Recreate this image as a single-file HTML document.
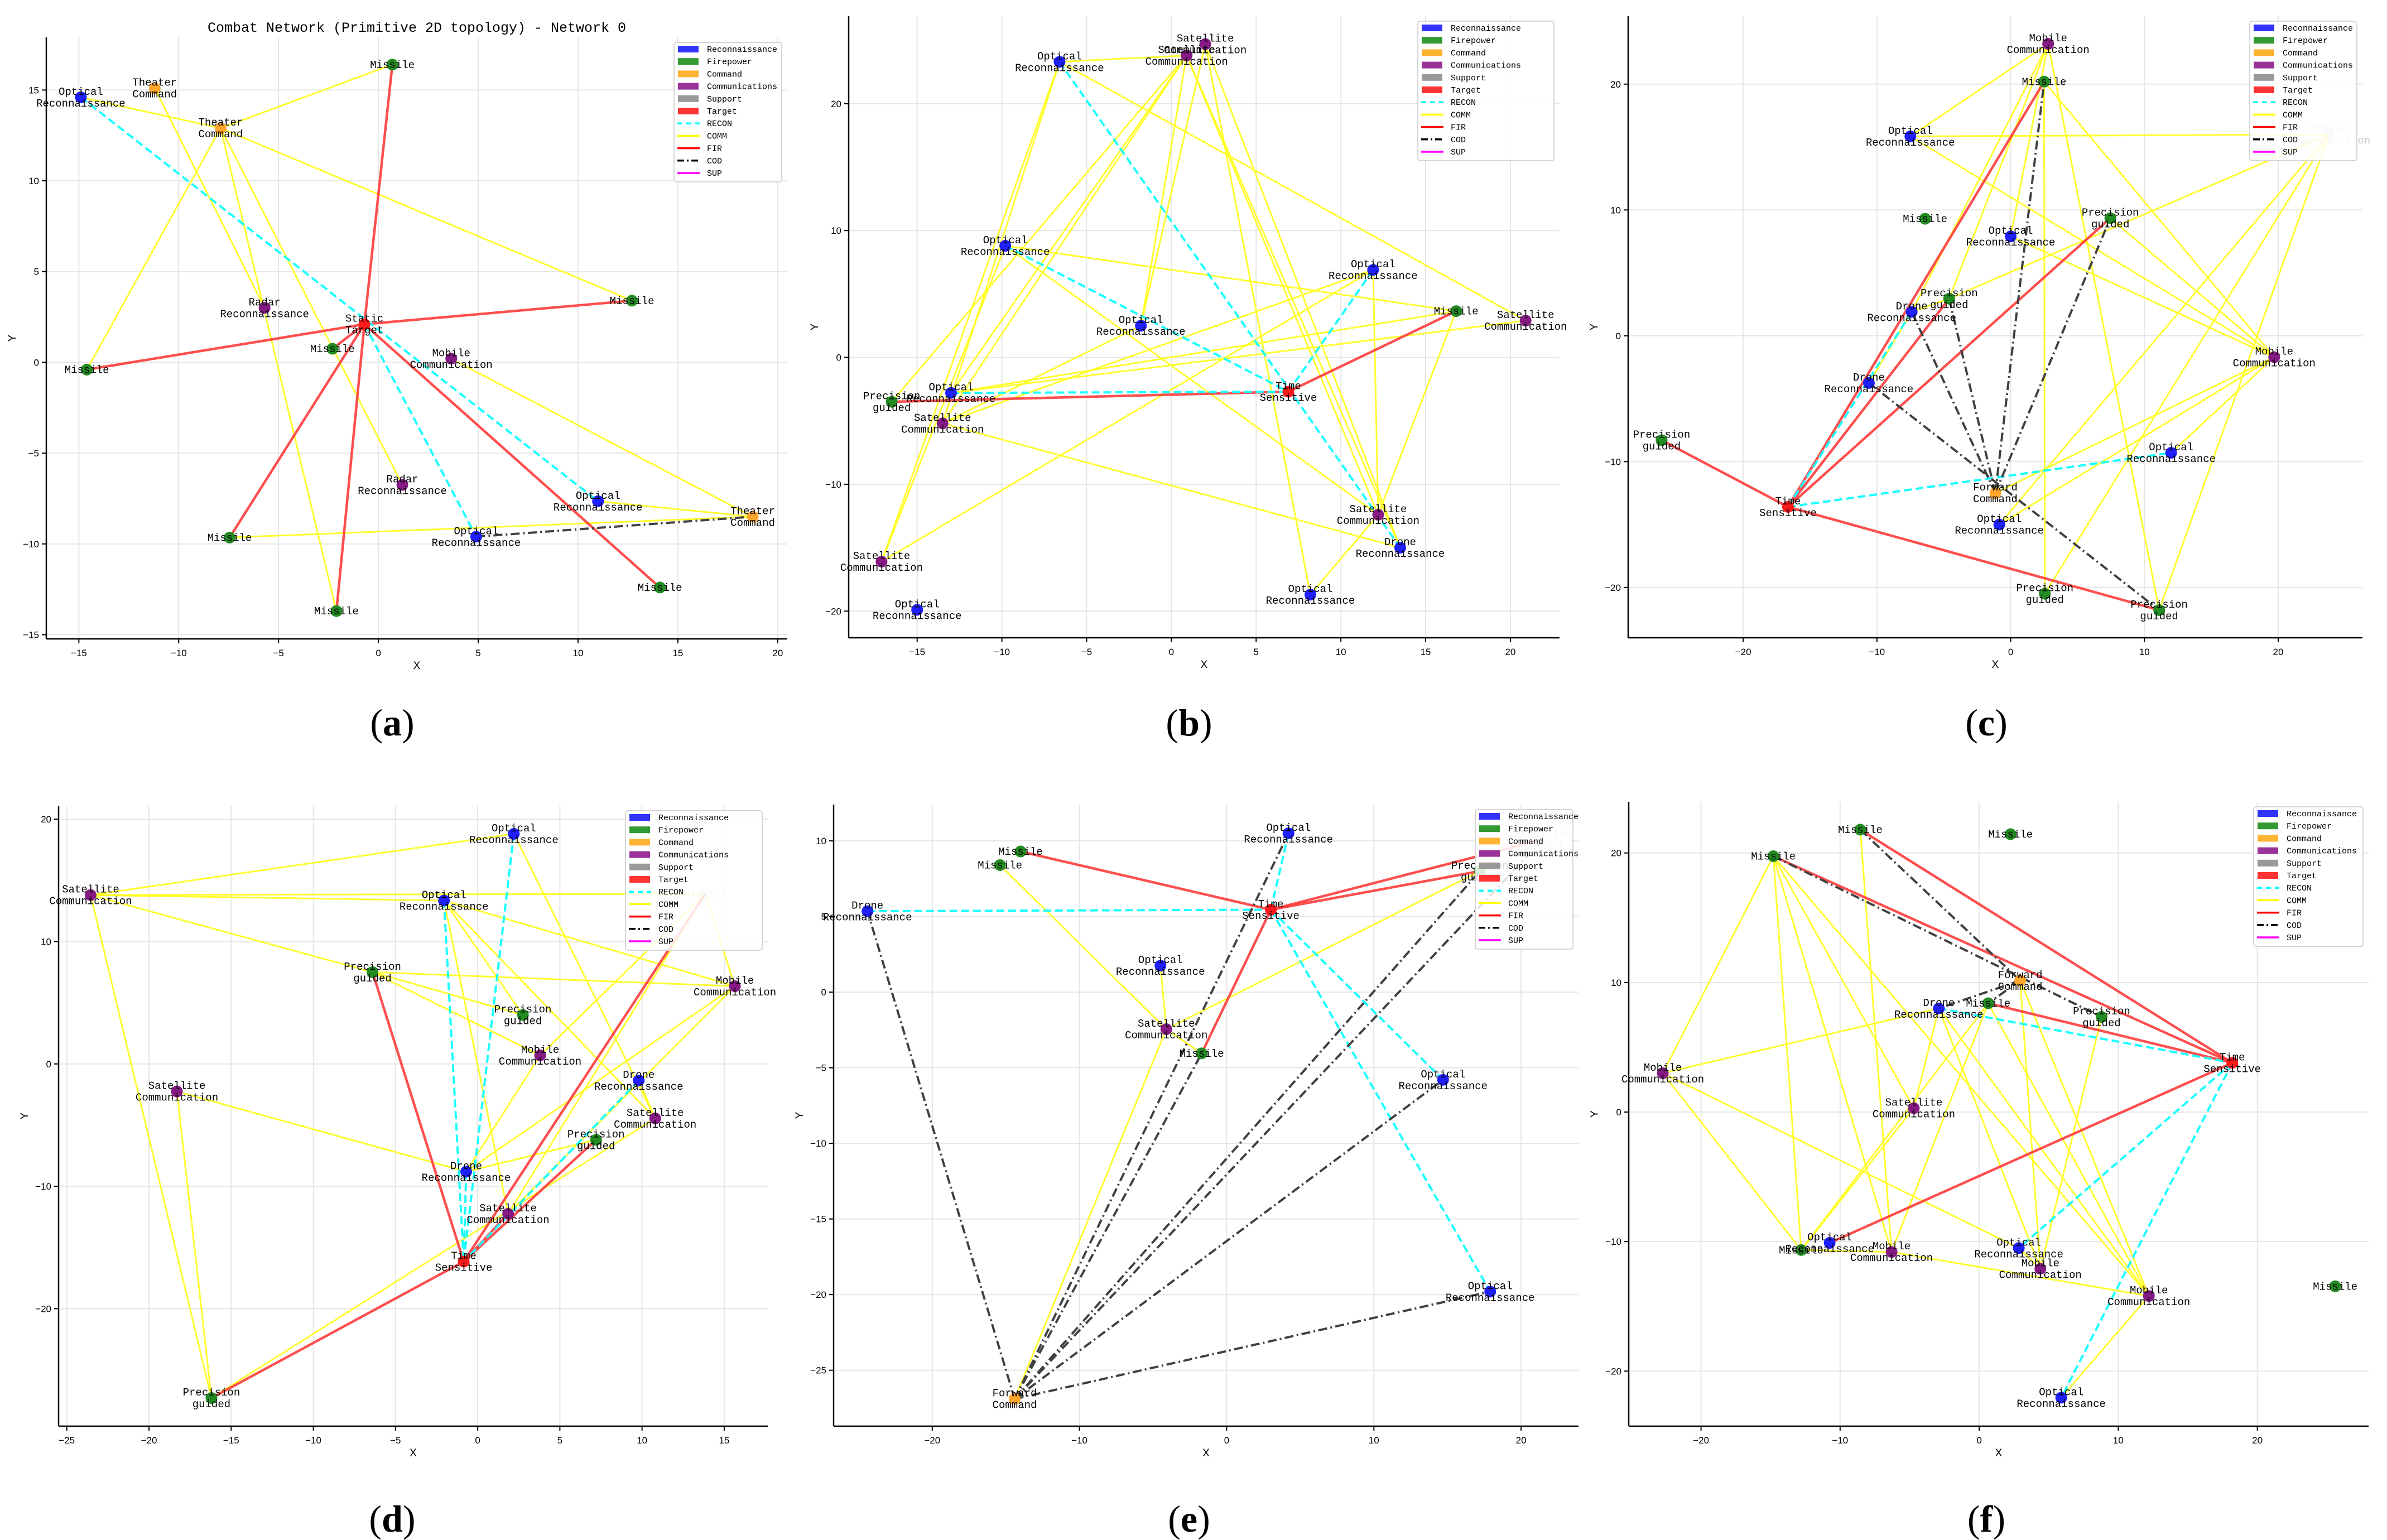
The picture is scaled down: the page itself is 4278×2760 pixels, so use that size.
<!DOCTYPE html>
<html><head><meta charset="utf-8"><style>
html,body{margin:0;padding:0;background:#fff;}
svg{display:block;}
</style></head><body>
<svg id="fig" xmlns="http://www.w3.org/2000/svg" width="4278" height="2760" viewBox="0 0 4278 2760">
<rect x="0" y="0" width="4278" height="2760" fill="#fff"/>
</svg>
<script>
// ---------- Panel (a) data ----------
const aX = [-14.9,-11.2,-7.9,0.7,12.7,-5.7,-0.7,-2.3,3.65,-14.6,1.2,11.0,18.75,4.9,-7.45,14.1,-2.1];
const aY = [14.6,15.1,12.9,16.4,3.4,3.0,2.1,0.75,0.2,-0.4,-6.75,-7.65,-8.5,-9.6,-9.65,-12.4,-13.7];
const aType = ['R','C','C','F','F','M','T','F','M','F','M','R','C','R','F','F','F'];
const aLabel = ['Optical\nReconnaissance','Theater\nCommand','Theater\nCommand','Missile','Missile','Radar\nReconnaissance','Static\nTarget','Missile','Mobile\nCommunication','Missile','Radar\nReconnaissance','Optical\nReconnaissance','Theater\nCommand','Optical\nReconnaissance','Missile','Missile','Missile'];
const aComm = [[0,2],[2,3],[2,9],[2,4],[1,5],[2,16],[2,10],[8,12],[11,12],[14,12]];
const aRecon = [[0,11],[6,13]];
const aFire = [[6,3],[6,9],[6,4],[6,14],[6,16],[6,15],[6,7]];
const aCod = [[13,12]];
const aFaded = [];

// ---------- Panel (b) data ----------
const bX = [-6.6,2.0,0.9,-9.8,11.9,16.8,20.9,-1.8,6.9,-13.0,-16.5,-13.5,12.2,13.5,-17.1,8.2,-15.0];
const bY = [23.3,24.7,23.8,8.8,6.9,3.65,2.9,2.5,-2.7,-2.8,-3.5,-5.2,-12.4,-15.0,-16.1,-18.7,-19.9];
const bType = ['R','M','M','R','R','F','M','R','T','R','F','M','M','R','M','R','R'];
const bLabel = ['Optical\nReconnaissance','Satellite\nCommunication','Satellite\nCommunication','Optical\nReconnaissance','Optical\nReconnaissance','Missile','Satellite\nCommunication','Optical\nReconnaissance','Time\nSensitive','Optical\nReconnaissance','Precision\nguided','Satellite\nCommunication','Satellite\nCommunication','Drone\nReconnaissance','Satellite\nCommunication','Optical\nReconnaissance','Optical\nReconnaissance'];
const bComm = [[0,2],[0,14],[0,11],[0,6],[2,10],[2,9],[2,11],[2,7],[2,12],[1,13],[1,15],[1,7],[3,5],[3,14],[3,12],[4,11],[4,12],[4,14],[5,12],[5,9],[6,9],[7,11],[11,13],[12,15],[2,13]];
const bRecon = [[0,13],[3,8],[9,8],[4,8]];
const bFire = [[8,5],[8,10]];
const bCod = [];
const bFaded = [];

// ---------- Panel (c) data ----------
const cX = [2.8,2.5,-7.5,23.8,-6.4,7.45,0,-4.6,-7.4,19.7,-10.6,-26.1,12.0,-1.15,-16.65,-0.85,2.55,11.1];
const cY = [23.2,20.2,15.85,16.0,9.3,9.35,7.9,2.95,1.9,-1.7,-3.75,-8.3,-9.3,-12.5,-13.6,-15.0,-20.5,-21.8];
const cType = ['M','F','R','M','F','F','R','F','R','M','R','F','R','C','T','R','F','F'];
const cLabel = ['Mobile\nCommunication','Missile','Optical\nReconnaissance','Mobile\nCommunication','Missile','Precision\nguided','Optical\nReconnaissance','Precision\nguided','Drone\nReconnaissance','Mobile\nCommunication','Drone\nReconnaissance','Precision\nguided','Optical\nReconnaissance','Forward\nCommand','Time\nSensitive','Optical\nReconnaissance','Precision\nguided','Precision\nguided'];
const cComm = [[0,2],[0,7],[0,8],[0,6],[1,16],[1,9],[0,17],[2,3],[2,9],[5,9],[6,9],[3,7],[3,15],[3,16],[3,17],[9,13],[9,15],[9,12],[10,8],[7,8]];
const cRecon = [[14,8],[14,12]];
const cFire = [[14,1],[14,7],[14,5],[14,11],[14,17]];
const cCod = [[13,1],[13,5],[13,7],[13,8],[10,17]];
const cFaded = [3];

// ---------- Panel (d) data ----------
const dX = [2.2,-23.55,-2.05,13.85,-6.4,15.65,2.75,3.8,-18.3,9.8,10.8,7.2,-0.7,1.85,-0.85,-16.2];
const dY = [18.8,13.8,13.35,13.9,7.5,6.35,4.0,0.7,-2.25,-1.35,-4.45,-6.2,-8.8,-12.25,-16.15,-27.3];
const dType = ['R','M','R','F','F','M','F','M','M','R','M','F','R','M','T','F'];
const dLabel = ['Optical\nReconnaissance','Satellite\nCommunication','Optical\nReconnaissance','Missile','Precision\nguided','Mobile\nCommunication','Precision\nguided','Mobile\nCommunication','Satellite\nCommunication','Drone\nReconnaissance','Satellite\nCommunication','Precision\nguided','Drone\nReconnaissance','Satellite\nCommunication','Time\nSensitive','Precision\nguided'];
const dComm = [[1,0],[1,3],[1,2],[1,4],[4,5],[4,7],[4,6],[1,15],[8,15],[8,12],[2,6],[2,5],[2,13],[2,10],[0,10],[3,5],[7,12],[7,3],[5,12],[5,13],[9,10],[12,11],[3,13],[15,10]];
const dRecon = [[0,14],[2,14],[12,14],[9,14]];
const dFire = [[14,4],[14,3],[14,15],[14,11],[14,13]];
const dCod = [];
const dFaded = [3];

// ---------- Panel (e) data ----------
const eX = [4.2,21.5,-14.0,-15.4,17.2,-24.4,3.0,-4.5,-4.1,-1.7,14.7,17.9,-14.4];
const eY = [10.5,10.1,9.3,8.4,8.0,5.35,5.45,1.75,-2.45,-4.05,-5.8,-19.8,-26.9];
const eType = ['R','F','F','F','F','R','T','R','M','F','R','R','C'];
const eLabel = ['Optical\nReconnaissance','Precision\nguided','Missile','Missile','Precision\nguided','Drone\nReconnaissance','Time\nSensitive','Optical\nReconnaissance','Satellite\nCommunication','Missile','Optical\nReconnaissance','Optical\nReconnaissance','Forward\nCommand'];
const eComm = [[3,8],[7,8],[8,9],[8,4],[8,12]];
const eRecon = [[5,6],[0,6],[6,10],[6,11]];
const eFire = [[6,2],[6,1],[6,4],[6,9]];
const eCod = [[12,5],[12,0],[12,9],[12,4],[12,1],[12,10],[12,11]];
const eFaded = [1];

// ---------- Panel (f) data ----------
const fX = [-8.55,2.25,-14.8,2.95,0.65,-2.9,8.8,18.2,-22.75,-4.7,-10.75,-12.8,-6.3,2.85,4.4,12.2,25.6,5.9];
const fY = [21.8,21.45,19.75,10.15,8.4,8.0,7.35,3.8,3.0,0.3,-10.1,-10.65,-10.8,-10.5,-12.1,-14.2,-13.45,-22.05];
const fType = ['F','F','F','C','F','R','F','T','M','M','R','F','M','R','M','M','F','R'];
const fLabel = ['Missile','Missile','Missile','Forward\nCommand','Missile','Drone\nReconnaissance','Precision\nguided','Time\nSensitive','Mobile\nCommunication','Satellite\nCommunication','Optical\nReconnaissance','Missile','Mobile\nCommunication','Optical\nReconnaissance','Mobile\nCommunication','Mobile\nCommunication','Missile','Optical\nReconnaissance'];
const fComm = [[2,8],[2,12],[2,9],[2,15],[0,12],[8,5],[8,11],[8,13],[11,12],[11,4],[12,15],[9,5],[12,4],[5,14],[5,15],[3,14],[3,15],[4,15],[6,14],[13,14],[15,17],[2,11],[11,9]];
const fRecon = [[5,7],[7,13],[7,17]];
const fFire = [[7,0],[7,2],[7,4],[7,10]];
const fCod = [[0,3],[2,6],[3,5],[3,4]];
const fFaded = [];

// ---------- Legend entries ----------
const legendNames = ['Reconnaissance','Firepower','Command','Communications','Support','Target','RECON','COMM','FIR','COD','SUP'];

const NS = 'http://www.w3.org/2000/svg';
const svg = document.getElementById('fig');
const nodeColor = {R:'#1f1fff',F:'#228b22',C:'#ffa62b',M:'#851a85',T:'#ff1a1a'};
const patchColor = ['#3333ff','#339933','#ffb333','#993399','#999999','#ff3333'];
const lineStyle = {
  comm:{stroke:'#ffff1a',w:3,dash:null,op:0.9},
  fire:{stroke:'#ff3b3b',w:4.5,dash:null,op:0.9},
  recon:{stroke:'#1affff',w:4,dash:'14 7',op:1},
  cod:{stroke:'#404040',w:4,dash:'16 6 3 6',op:1}
};
function mk(tag, attrs, parent){
  const e = document.createElementNS(NS, tag);
  for (const k in attrs) e.setAttribute(k, attrs[k]);
  (parent||svg).appendChild(e);
  return e;
}
function ticks(a,b,s){const r=[];for(let v=Math.ceil(a/s)*s; v<=b+1e-9; v+=s) r.push(Math.round(v*100)/100);return r;}
const MONO = '"Liberation Mono", "Noto Sans CJK SC", monospace';
const SANS = '"Liberation Sans", "Noto Sans CJK SC", sans-serif';

function drawPanel(id, cfg, X, Y, T, L, comm, recon, fire, cod, faded){
  const g = mk('g', {});
  
  
  const sx = v => cfg.L + (v-cfg.x0)/(cfg.x1-cfg.x0)*(cfg.R-cfg.L);
  const sy = v => cfg.B - (v-cfg.y0)/(cfg.y1-cfg.y0)*(cfg.B-cfg.T);
  const xt = ticks(cfg.x0,cfg.x1,cfg.xs), yt = ticks(cfg.y0,cfg.y1,cfg.ys);
  xt.forEach(v=>{ const l = mk('line',{x1:sx(v),x2:sx(v),y1:cfg.T,y2:cfg.B,stroke:'#e6e6e6','stroke-width':2},g);
      });
  yt.forEach(v=>{ const l = mk('line',{x1:cfg.L,x2:cfg.R,y1:sy(v),y2:sy(v),stroke:'#e6e6e6','stroke-width':2},g);
      });
  const groups = [['comm',comm],['fire',fire],['recon',recon],['cod',cod]];
  groups.forEach(([k,arr])=>{
    const st = lineStyle[k];
    arr.forEach(([i,j])=>{
      const a = {x1:sx(X[i]),y1:sy(Y[i]),x2:sx(X[j]),y2:sy(Y[j]),stroke:st.stroke,'stroke-width':st.w,'stroke-opacity':st.op};
      if (st.dash) a['stroke-dasharray']=st.dash;
      const l = mk('line',a,g);
      
      
    });
  });
  X.forEach((x,i)=>{
    const f = faded.indexOf(i)>=0;
    const c = mk('circle',{cx:sx(x),cy:sy(Y[i]),r:10.5,fill:nodeColor[T[i]],'fill-opacity':f?0.15:1},g);
    
    
  });
  X.forEach((x,i)=>{
    const f = faded.indexOf(i)>=0;
    const lines = L[i].split('\n');
    const cx = sx(x), cy = sy(Y[i]);
    lines.forEach((s,k)=>{
      const off = lines.length===1 ? 0 : (k===0?-10.5:10.5);
      const t = mk('text',{x:cx,y:cy+off+6,'text-anchor':'middle','font-family':MONO,'font-size':19,fill:f?'#c8c8c8':'#000'},g);
      t.textContent = s;
      
      
    });
  });
  const sp1 = mk('line',{x1:cfg.L,x2:cfg.L,y1:cfg.T,y2:cfg.B,stroke:'#000','stroke-width':2.5},g);
   
  const sp2 = mk('line',{x1:cfg.L,x2:cfg.R,y1:cfg.B,y2:cfg.B,stroke:'#000','stroke-width':2.5},g);
   
  xt.forEach(v=>{
    mk('line',{x1:sx(v),x2:sx(v),y1:cfg.B,y2:cfg.B+8,stroke:'#000','stroke-width':2},g);
    const t = mk('text',{x:sx(v),y:cfg.B+31,'text-anchor':'middle','font-family':SANS,'font-size':17,fill:'#000'},g);
    t.textContent = String(v).replace('-','\u2212');
     
  });
  yt.forEach(v=>{
    mk('line',{x1:cfg.L-8,x2:cfg.L,y1:sy(v),y2:sy(v),stroke:'#000','stroke-width':2},g);
    const t = mk('text',{x:cfg.L-13,y:sy(v)+6,'text-anchor':'end','font-family':SANS,'font-size':17,fill:'#000'},g);
    t.textContent = String(v).replace('-','\u2212');
     
  });
  const xl = mk('text',{x:(cfg.L+cfg.R)/2,y:cfg.B+54,'text-anchor':'middle','font-family':SANS,'font-size':19,fill:'#000'},g);
  xl.textContent='X';  
  const ym = (cfg.T+cfg.B)/2;
  const yl = mk('text',{x:cfg.L-55,y:ym,'text-anchor':'middle','font-family':SANS,'font-size':19,fill:'#000',transform:'rotate(-90 '+(cfg.L-55)+' '+ym+')'},g);
  yl.textContent='Y';  
  const lw = cfg.lw, lx = cfg.R-10-lw, ly = cfg.T+9;
  const lg = mk('g',{},g);
   
  mk('rect',{x:lx,y:ly,width:lw,height:250,rx:4,fill:'#fff','fill-opacity':0.85,stroke:'#d6d6d6','stroke-width':2},lg);
  legendNames.forEach((n,k)=>{
    const yc = ly+12+k*22.2;
    if (k<6){
      mk('rect',{x:lx+7,y:yc-6,width:37,height:12,fill:patchColor[k]},lg);
    } else {
      const m = {6:['#00ffff','9 7'],7:['#ffff00',null],8:['#ff0000',null],9:['#000','12 5 3 5'],10:['#ff00ff',null]}[k];
      const a = {x1:lx+6,x2:lx+46,y1:yc,y2:yc,stroke:m[0],'stroke-width':3.5};
      if (m[1]) a['stroke-dasharray']=m[1];
      mk('line',a,lg);
    }
    const t = mk('text',{x:lx+59,y:yc+5,'font-family':MONO,'font-size':15,fill:'#000'},lg);
    t.textContent = n;
     
  });
  const sl = mk('text',{x:cfg.labX,y:cfg.labY,'text-anchor':'middle','font-family':'"Liberation Serif", serif','font-size':68,fill:'#000'},g);
  const p1 = mk('tspan',{},sl); p1.textContent='(';
  const p2 = mk('tspan',{'font-weight':'bold'},sl); p2.textContent=id;
  const p3 = mk('tspan',{},sl); p3.textContent=')';
   
  return g;
}

drawPanel('a',{L:83,R:1411,T:67,B:1145,x0:-16.63,x1:20.48,y0:-15.23,y1:17.9,xs:5,ys:5,lw:193,labX:703,labY:1318},aX,aY,aType,aLabel,aComm,aRecon,aFire,aCod,aFaded);
drawPanel('b',{L:1521,R:2795,T:29,B:1143,x0:-19.04,x1:22.9,y0:-22.1,y1:26.9,xs:5,ys:10,lw:244,labX:2131,labY:1318},bX,bY,bType,bLabel,bComm,bRecon,bFire,bCod,bFaded);
drawPanel('c',{L:2918,R:4234,T:29,B:1143,x0:-28.6,x1:26.3,y0:-24.0,y1:25.4,xs:10,ys:10,lw:192,labX:3560,labY:1318},cX,cY,cType,cLabel,cComm,cRecon,cFire,cCod,cFaded);
drawPanel('d',{L:105,R:1376,T:1444,B:2556,x0:-25.5,x1:17.65,y0:-29.6,y1:21.1,xs:5,ys:10,lw:245,labX:703,labY:2745},dX,dY,dType,dLabel,dComm,dRecon,dFire,dCod,dFaded);
drawPanel('e',{L:1494,R:2829,T:1442,B:2556,x0:-26.7,x1:23.9,y0:-28.7,y1:12.4,xs:10,ys:5,lw:175,labX:2131,labY:2745},eX,eY,eType,eLabel,eComm,eRecon,eFire,eCod,eFaded);
drawPanel('f',{L:2919,R:4245,T:1437,B:2556,x0:-25.2,x1:28.0,y0:-24.25,y1:23.95,xs:10,ys:10,lw:196,labX:3560,labY:2745},fX,fY,fType,fLabel,fComm,fRecon,fFire,fCod,fFaded);

const title = mk('text',{x:747,y:57,'text-anchor':'middle','font-family':MONO,'font-size':25,fill:'#000'});
title.textContent = 'Combat Network (Primitive 2D topology) - Network 0';


</script>
</body></html>
